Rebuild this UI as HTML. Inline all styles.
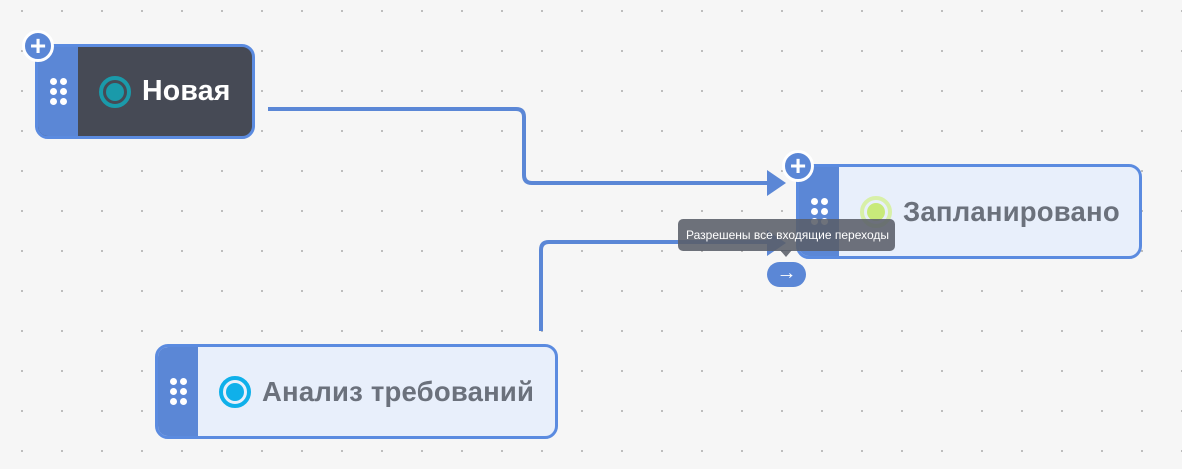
<!DOCTYPE html>
<html><head><meta charset="utf-8"><style>
*{margin:0;padding:0;box-sizing:border-box}
body{width:1182px;height:469px;overflow:hidden;background:#f6f6f6;position:relative;font-family:"Liberation Sans","DejaVu Sans",sans-serif;
background-image:radial-gradient(circle,#b4b4b4 0.9px,transparent 1.2px);background-size:40px 40px;background-position:2px -9px}
.node{position:absolute;border:3px solid #5b8be0;border-radius:13px;overflow:hidden;display:flex;align-items:center}
.strip{width:40px;height:100%;background:#5b87d6;display:flex;align-items:center;justify-content:center}
.grip{display:grid;grid-template-columns:7px 7px;gap:3px}
.grip i{width:7px;height:7px;border-radius:50%;background:#fff;display:block}
.ring{width:32px;height:32px;border-radius:50%;display:flex;align-items:center;justify-content:center;margin-left:21px;margin-right:11px}
.ring b{width:18px;height:18px;border-radius:50%;display:block}
.lbl{font-weight:bold;font-size:27.5px;letter-spacing:0.2px;font-family:"Liberation Sans","DejaVu Sans",sans-serif}
.plus{position:absolute;width:32px;height:32px;border-radius:50%;background:#5b87d6;border:3px solid #fff;color:#fff;font-weight:bold;font-size:28px;line-height:25px;text-align:center}
</style></head><body>
<svg width="1182" height="469" style="position:absolute;left:0;top:0">
<path d="M268 109 H516 Q524 109 524 117 V175 Q524 183 532 183 H770" fill="none" stroke="#5b87d6" stroke-width="4"/>
<polygon points="767,170 786,183 767,196" fill="#5b87d6"/>
<path d="M541 331 V250 Q541 242 549 242 H770" fill="none" stroke="#5b87d6" stroke-width="4"/>
<polygon points="767,230 786,243 767,256" fill="#5b87d6"/>
</svg>
<div class="node" style="left:35px;top:44px;width:220px;height:95px;background:#464a55">
<div class="strip"><div class="grip"><i></i><i></i><i></i><i></i><i></i><i></i></div></div>
<div class="ring" style="border:4px solid #1a9aaa"><b style="background:#1a9aaa"></b></div>
<span class="lbl" style="color:#fff;font-size:28.5px">Новая</span></div>
<div class="plus" style="left:22px;top:30px">+</div>
<div class="node" style="left:796px;top:164px;width:346px;height:95px;background:#e8effb">
<div class="strip"><div class="grip"><i></i><i></i><i></i><i></i><i></i><i></i></div></div>
<div class="ring" style="border:4px solid #d8f0a8"><b style="background:#c8ea7a"></b></div>
<span class="lbl" style="color:#6b717c">Запланировано</span></div>
<div class="plus" style="left:782px;top:150px">+</div>
<div class="node" style="left:155px;top:344px;width:403px;height:95px;background:#e8effb">
<div class="strip"><div class="grip"><i></i><i></i><i></i><i></i><i></i><i></i></div></div>
<div class="ring" style="border:4px solid #0fb0ea"><b style="background:#0fb0ea"></b></div>
<span class="lbl" style="color:#6b717c">Анализ требований</span></div>
<div style="position:absolute;left:678px;top:219px;width:217px;height:32px;background:rgba(90,95,105,0.88);border-radius:5px;color:#fff;font-size:12px;line-height:32px;padding-left:8px">Разрешены все входящие переходы</div>
<div style="position:absolute;left:780px;top:250px;width:0;height:0;border-left:6px solid transparent;border-right:6px solid transparent;border-top:7px solid rgba(90,95,105,0.88)"></div>
<div style="position:absolute;left:767px;top:262px;width:39px;height:25px;background:#5b87d6;border-radius:13px;color:#fff;font-size:20px;font-weight:bold;text-align:center;line-height:23px">→</div>
</body></html>
